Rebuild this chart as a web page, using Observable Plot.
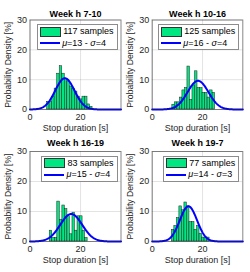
<!DOCTYPE html>
<html><head><meta charset="utf-8">
<script src="https://cdn.jsdelivr.net/npm/d3@7"></script>
<script src="https://cdn.jsdelivr.net/npm/@observablehq/plot@0.6"></script>
<style>
html,body{margin:0;padding:0;background:#fff;}
#root{position:relative;width:250px;height:272px;overflow:hidden;font-family:"Liberation Sans",Arial,sans-serif;}
.cell{position:absolute;width:125px;height:136px;}
.cell svg{display:block;overflow:visible;}
.legend{position:absolute;background:#fff;border:1px solid #8c8c8c;box-sizing:border-box;padding:1px 3px 0 2px;font-size:9px;color:#000;line-height:11.5px;}
.row{display:flex;align-items:center;height:11.5px;white-space:nowrap;}
.sw{display:inline-block;width:19px;height:8px;background:#00e680;border:0.8px solid #333;margin-right:2px;}
.ln{display:inline-block;width:20px;height:2px;background:#0000ff;margin-right:2px;}
</style>
</head><body>
<div id="root"></div>
<script>
// ---------- data ----------
const titles = ["Week h 7-10", "Week h 10-16", "Week h 16-19", "Week h 19-7"];
const sampleCounts = [117, 125, 83, 77];
const legendMu = [13, 16, 15, 14];
const legendSigma = [4, 4, 4, 3];
// first bin edge (s) of each histogram, bins are 1 s wide
const binStart = [6.75, 8, 7.8, 7.8];
// bar heights (%) per panel
const heights1 = [2.6, 2.6, 4.2, 7.0, 12.0, 14.5, 12.0, 10.3, 9.4, 7.7, 6.8, 6.0, 4.3, 3.4, 4.3, 4.3, 1.7, 0.9];
const heights2 = [1.6, 2.4, 2.4, 4.0, 6.4, 7.2, 14.4, 3.2, 8.0, 12.8, 7.2, 7.2, 5.6, 5.6, 4.0, 6.4, 5.6];
const heights3 = [3.6, 1.2, 1.2, 13.3, 7.2, 12.0, 10.8, 8.4, 2.4, 9.6, 3.6, 8.4, 8.4, 3.6, 1.2];
const heights4 = [3.9, 5.2, 7.8, 11.7, 10.4, 13.0, 11.7, 6.5, 6.5, 3.9, 5.2, 2.6, 1.3, 1.3, 1.3];
// fitted normal curve drawn (position/width)
const fitMu = [13.8, 18.2, 16.3, 14.4];
const fitSigma = [3.8, 4.15, 4.35, 3.4];
const xTicks = [0, 20];
const yTicks = [0, 10, 20, 30];
const xLabel = "Stop duration [s]";
const yLabel = "Probability Density [%]";

// ---------- layout ----------
const heightsAll = [heights1, heights2, heights3, heights4];
const cells = [
  {left: 0, top: 0, mt: 19.5, mb: 27, ml: 29.5, mr: 4.5, tdy: -6.3},
  {left: 125, top: 0, mt: 19.5, mb: 27, ml: 26.7, mr: 7.7, tdy: -6.3},
  {left: 0, top: 136, mt: 15, mb: 31, ml: 29.5, mr: 4.5, tdy: -8.5},
  {left: 125, top: 136, mt: 15, mb: 31, ml: 26.7, mr: 7.7, tdy: -8.5}
];
const root = document.getElementById("root");
const font = '"Liberation Sans", Arial, sans-serif';

cells.forEach((c, i) => {
  const bins = heightsAll[i].map((h, k) => ({x1: binStart[i] + k, x2: binStart[i] + k + 1, h}));
  const curve = d3.range(0, 36.001, 0.2).map(x => ({
    x, y: 100 * Math.exp(-0.5 * ((x - fitMu[i]) / fitSigma[i]) ** 2) / (fitSigma[i] * Math.sqrt(2 * Math.PI))
  }));
  const svg = Plot.plot({
    width: 125, height: 136,
    marginTop: c.mt, marginBottom: c.mb, marginLeft: c.ml, marginRight: c.mr,
    x: {domain: [0, 36]},
    y: {domain: [0, 30]},
    style: {fontFamily: font, fontSize: "9px", color: "#262626", background: "transparent", overflow: "visible"},
    marks: [
      Plot.gridX(xTicks, {stroke: "#262626", strokeOpacity: 0.13, strokeWidth: 1}),
      Plot.gridY(yTicks, {stroke: "#262626", strokeOpacity: 0.13, strokeWidth: 1}),
      Plot.rect(bins, {x1: "x1", x2: "x2", y1: 0, y2: "h", fill: "#00e680", stroke: "#222", strokeWidth: 0.5}),
      Plot.line(curve, {x: "x", y: "y", stroke: "#0000ff", strokeWidth: 2}),
      Plot.frame({stroke: "#262626", strokeOpacity: 0.55, strokeWidth: 1}),
      Plot.axisX(xTicks, {tickSize: 0, tickPadding: 4, label: null, fontSize: 9}),
      Plot.axisY(yTicks, {tickSize: 0, tickPadding: 3, label: null, fontSize: 9}),
      Plot.text([titles[i]], {text: d => d, frameAnchor: "top", dy: c.tdy, lineAnchor: "middle", textAnchor: "middle", fontWeight: "bold", fontSize: 9, fill: "#000"}),
      Plot.text([xLabel], {text: d => d, frameAnchor: "bottom", dy: 18.7, lineAnchor: "middle", textAnchor: "middle", fontSize: 9, fill: "#262626"}),
      Plot.text([yLabel], {text: d => d, frameAnchor: "left", dx: -22, rotate: -90, lineAnchor: "middle", textAnchor: "middle", fontSize: 8.6, fill: "#262626"})
    ]
  });
  const cell = document.createElement("div");
  cell.className = "cell";
  cell.style.left = c.left + "px";
  cell.style.top = c.top + "px";
  cell.appendChild(svg);
  root.appendChild(cell);

  const lg = document.createElement("div");
  lg.className = "legend";
  const plotRight = c.left + 125 - c.mr;
  lg.style.right = (250 - plotRight + 3) + "px";
  lg.style.top = (c.top + c.mt + 4.5) + "px";
  lg.innerHTML =
    `<div class="row"><span class="sw"></span><span>${sampleCounts[i]} samples</span></div>` +
    `<div class="row"><span class="ln"></span><span><i>μ</i>=${legendMu[i]} - <i>σ</i>=${legendSigma[i]}</span></div>`;
  root.appendChild(lg);
});
</script>
</body></html>
